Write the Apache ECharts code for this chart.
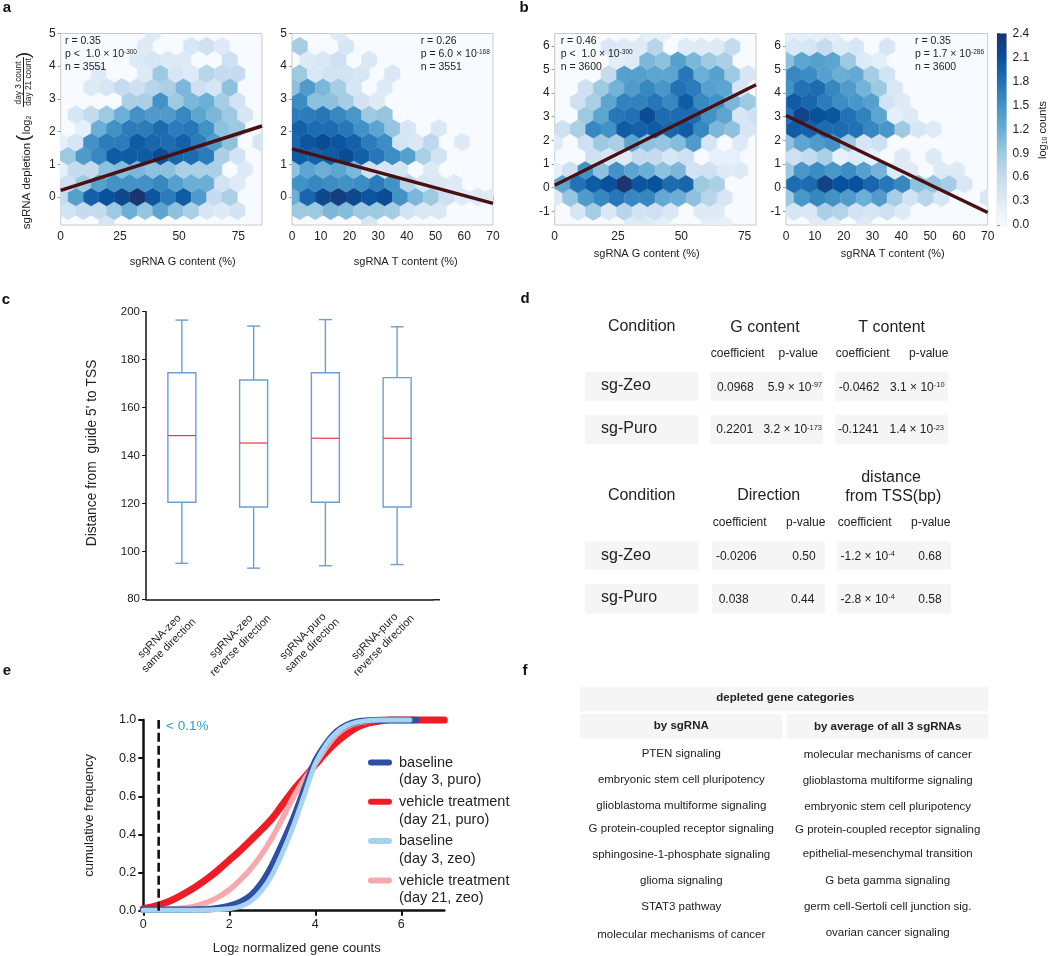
<!DOCTYPE html>
<html><head><meta charset="utf-8">
<style>html,body{margin:0;padding:0;background:#fff}#c{width:1050px;height:956px}</style>
<script src="https://cdn.jsdelivr.net/npm/echarts@6/dist/echarts.min.js"></script>
</head><body><div id="c"></div>
<script>
// ---------- hexbin values: log10 counts by row (bottom to top) and column
const hexA1 = [[0,0,0,.4],[.45,.6,.6,.9,1.2,.95,1.3,1.0,.8,.4,.3,.45],[.6,1.35,1.95,2.1,2.2,2.4,2.05,1.7,2.0,1.4,.6,.8],
[.5,.9,1.35,1.5,1.5,1.5,1.6,1.35,1.2,1.2,.45,.3],[.2,.6,.6,1.0,1.05,1.1,1.0,1.0,.8,.8,.8,0,.3],
[.9,1.4,1.6,2.0,2.0,2.0,2.15,1.9,1.85,1.7,.8,.45],[.2,.4,1.5,1.7,1.7,2.0,1.9,1.85,1.95,1.7,1.4,1.0,0,.4],
[0,.2,1.2,1.5,1.7,1.7,1.85,1.7,1.75,1.5,1.0,.9],[0,.4,.6,.9,1.2,1.5,1.4,1.4,1.6,1.3,1.1,.9,.4],
[0,0,0,0,.8,.8,1.5,.9,1.1,1.2,.85,.45],[0,0,.3,.4,.6,.5,.7,.8,1.1,.5,.4,1.0],[0,0,.3,0,0,.3,.9,.4,.3,.7,.6,.6],
[0,0,0,0,0,.3,.4,.3,.3,0,0,.5],[0,0,0,0,0,.3,0,0,.4,.5,.3],[0,0,0,0,0,0,.3]];
const hexA2 = [[0,0,0,0,0,.4],[.9,.9,1.1,1.05,.9,.9,.85,.45,.35,.35],[1.2,1.9,2.2,2.3,2.2,2.05,2.15,1.5,1.1,.9,.5,.3,.3,.3],
[1.5,1.6,1.55,1.5,1.55,1.7,1.5,.7,.4,.35,.3],[1.0,1.3,1.2,1.3,1.1,.5,.4,.4,0,.3],[2.0,1.95,2.0,2.15,1.95,1.75,1.55,1.35,.8,.45],
[1.9,2.05,2.15,2.05,1.95,1.7,1.55,.45,.35,.65,0,.3],[1.95,1.85,1.85,1.75,1.5,1.3,.95,.4,0,.35],[1.7,1.7,1.75,1.6,1.45,.9,.95],
[1.55,1.0,1.0,.85,.45,.3],[1.0,1.4,1.1,.85,.4,0,.3],[.9,.35,.45,.45,.4,0,.35],[0,.3,.35,.5,0,.35],[.85,0,0,.4],[0,0,0,.3]];
const hexB1 = [[0,0,0,0,0,.3,.3,.25,0,0,.25,.2],[0,.4,.85,.35,.7,.45,.5,.35,0,.3,.3],[.3,.95,1.4,1.6,1.75,1.6,1.6,1.25,1.2,1.0,.7,.4],
[1.3,1.8,2.0,2.1,2.4,2.05,2.1,1.85,1.9,.9,.8],[.2,.5,1.5,1.0,1.5,1.3,1.2,1.0,1.1,.45,.5,.3,.3],[0,0,.5,.4,.3,.6,.6,.4,.5,0,.2,.2],
[.3,0,.5,.9,.8,1.3,1.0,.95,1.05,1.4,.4,0,.3],[.5,.8,1.6,1.5,2.0,1.95,2.0,1.9,2.0,1.6,1.1,1.0,.4],
[0,0,.9,1.3,1.75,1.8,2.15,1.85,1.85,1.85,1.5,1.3,.4,.5],[0,.5,.8,1.3,1.65,1.65,1.75,1.6,2.0,1.6,1.5,1.1,.9],
[0,0,.5,.9,1.15,1.4,1.6,1.45,1.8,1.7,1.35,1.3,.4],[0,0,0,.6,1.35,1.35,1.3,1.3,1.75,1.2,1.35,.9,.4],
[0,0,0,0,.25,.3,1.1,1.0,1.35,1.1,.9,.8],[0,0,0,.35,.3,.3,.7,0,.3,.3,.3,.6],[0,0,0,0,0,0,.2,.2]];
const hexB2 = [[0,0,.3,.25,0,.3],[.4,.35,.8,.75,.45,.4,.5,.3],[.9,1.45,1.6,1.5,1.4,1.2,1.4,.85,.45,.7,.4,0,0,.35],
[1.85,1.85,2.25,2.1,2.1,1.9,1.75,1.6,1.0,.95,.85,.35],[.9,1.45,1.55,1.45,1.55,1.35,1.15,.3,.3,0,.3,.3],[.5,.6,.8,.2,.3,.2,0,.3,0,.3],
[1.0,1.3,1.4,1.5,.9,.4,.5],[2.0,1.95,1.85,1.85,1.8,1.6,1.45,.9,.4,.3],[1.8,2.25,2.1,2.05,1.8,1.65,1.3,.2,.3],
[2.0,1.9,1.7,1.55,1.45,1.35,.45,.3],[1.5,1.8,1.85,1.6,1.4,1.15,.9,.35],[1.6,1.55,1.35,1.2,1.25,.85,.45],
[1.0,1.3,1.35,1.3,.9,.3,.25],[.35,.4,.6,.3,.4,0,.4],[.2,.2,.2,.2]];
// ---------- regression line end points
const lineA1 = [[0,.2],[85,2.17]], lineA2 = [[0,1.47],[70,-.2]], lineB1 = [[0,.1],[79.5,4.35]], lineB2 = [[0,3.05],[70,-1.05]];
// ---------- tick labels
const ticksA1X = [0,25,50,75], ticksA2X = [0,10,20,30,40,50,60,70], ticksAY = [0,1,2,3,4,5], ticksBY = [-1,0,1,2,3,4,5,6];
const blues = ['#f7fbff','#deebf7','#c6dbef','#9ecae1','#6baed6','#4292c6','#2171b5','#08519c','#1a3570'];
// ---------- panel annotations
const statsA1 = ['r = 0.35','p <  1.0 × 10','-300','n = 3551'], statsA2 = ['r = 0.26','p = 6.0 × 10','-168','n = 3551'];
const statsB1 = ['r = 0.46','p <  1.0 × 10','-300','n = 3600'], statsB2 = ['r = 0.35','p = 1.7 × 10','-286','n = 3600'];
// ---------- panel c
const boxCategories = ['sgRNA-zeo\nsame direction','sgRNA-zeo\nreverse direction','sgRNA-puro\nsame direction','sgRNA-puro\nreverse direction'];
const boxLow = [95,93,94,94.5], boxQ1 = [120.5,118.5,120.5,118.5], boxMedian = [148.3,145.2,147.2,147.2], boxQ3 = [174.5,171.5,174.5,172.5], boxHigh = [196.5,194,196.7,193.7];
// ---------- panel e
const curveX = [0,.25,.5,.75,1,1.25,1.5,1.75,2,2.25,2.5,2.75,3,3.25,3.5,3.75,4,4.25,4.5,4.75,5,5.25,5.5,5.75,6];
const curveRed = [.01,.022,.04,.065,.095,.13,.17,.215,.265,.315,.37,.425,.485,.56,.635,.70,.765,.83,.885,.93,.965,.985,.995,1,1];
const curvePink = [.005,.006,.008,.011,.015,.027,.045,.073,.11,.16,.22,.295,.385,.49,.60,.69,.77,.855,.925,.965,.985,.995,1,1,1];
const curveDark = [.005,.005,.005,.005,.005,.006,.008,.014,.025,.045,.08,.145,.24,.36,.49,.64,.785,.875,.94,.975,.992,.998,1,1,1];
const curveLight = [.003,.003,.003,.003,.003,.003,.004,.006,.01,.022,.05,.105,.19,.31,.45,.61,.77,.87,.935,.972,.99,.997,1,1,1];
const legendNames = ['baseline\n(day 3, puro)','vehicle treatment\n(day 21, puro)','baseline\n(day 3, zeo)','vehicle treatment\n(day 21, zeo)'];
// ---------- panel d
const dCond = ['sg-Zeo','sg-Puro'];
const dG = [['0.0968','5.9 × 10','-97'],['0.2201','3.2 × 10','-173']], dT = [['-0.0462','3.1 × 10','-10'],['-0.1241','1.4 × 10','-23']];
const dDir = [['-0.0206','0.50'],['0.038','0.44']], dDist = [['-1.2 × 10','-4','0.68'],['-2.8 × 10','-4','0.58']];
// ---------- panel f
const fHead = ['depleted gene categories','by sgRNA','by average of all 3 sgRNAs'];
const fLeft = ['PTEN signaling','embryonic stem cell pluripotency','glioblastoma multiforme signaling','G protein-coupled receptor signaling','sphingosine-1-phosphate signaling','glioma signaling','STAT3 pathway','molecular mechanisms of cancer'];
const fRight = ['molecular mechanisms of cancer','glioblastoma multiforme signaling','embryonic stem cell pluripotency','G protein-coupled receptor signaling','epithelial-mesenchymal transition','G beta gamma signaling','germ cell-Sertoli cell junction sig.','ovarian cancer signaling'];

const FF = '"Liberation Sans", Arial, sans-serif', INK = '#222';
const chart = echarts.init(document.getElementById('c'), null, {renderer:'canvas'});

function hexData(rows, firstRow, y0, dy, evenX, oddX, dx){
  const out = [];
  rows.forEach((r,i)=>{ const idx = firstRow+i, even = ((idx%2)+2)%2===0;
    r.forEach((v,k)=>{ if(v>0) out.push([(even?evenX:oddX)+k*dx, y0+idx*dy, v]); }); });
  return out;
}
function hexSeries(i, data, dx, dy){
  return {type:'custom', xAxisIndex:i, yAxisIndex:i, clip:true, silent:true, z:2,
    encode:{x:0,y:1}, data,
    renderItem(p, api){
      const c = api.coord([api.value(0), api.value(1)]);
      const s = api.size([dx,dy]), w = s[0]/2, h = s[1]/3;
      const pts = [[c[0],c[1]-2*h],[c[0]+w,c[1]-h],[c[0]+w,c[1]+h],[c[0],c[1]+2*h],[c[0]-w,c[1]+h],[c[0]-w,c[1]-h]];
      const col = api.visual('color');
      return {type:'polygon', shape:{points:pts}, style:{fill:col, stroke:col, lineWidth:.4}};
    }};
}
function regSeries(i, data){
  return {type:'line', xAxisIndex:i, yAxisIndex:i, data, symbol:'none', silent:true, z:5, clip:true,
    lineStyle:{color:'#4a1010', width:3.5, cap:'butt'}};
}
const axisTxt = {color:INK, fontFamily:FF, fontSize:12};
function hexAxes(i, left, right, xmax, xticks, ymin, ymax, yticks){
  return {
    grid:{left, width:right-left, top:33.5, height:191.5, show:true, backgroundColor:'#f7fbff', borderColor:'#c9c9c9', borderWidth:1, z:1},
    x:{type:'value', gridIndex:i, min:0, max:xmax, splitLine:{show:false}, axisLine:{show:false},
      axisTick:{show:true, length:3, lineStyle:{color:'#999'}, customValues:xticks},
      axisLabel:{...axisTxt, margin:6, customValues:xticks, hideOverlap:false}},
    y:{type:'value', gridIndex:i, min:ymin, max:ymax, splitLine:{show:false}, axisLine:{show:false},
      axisTick:{show:true, length:3, lineStyle:{color:'#999'}, customValues:yticks},
      axisLabel:{...axisTxt, margin:5, customValues:yticks, hideOverlap:false}}
  };
}
const A = [hexAxes(0,60.7,262,85,ticksA1X,-.86,5,ticksAY),hexAxes(1,292,493,70,ticksA2X,-.86,5,ticksAY),
           hexAxes(2,554.7,756,79.5,ticksA1X,-1.58,6.52,ticksBY),hexAxes(3,786,987.7,70,ticksA2X,-1.58,6.52,ticksBY)];

// text helper
function T(x,y,text,size,o={}){
  return {type:'text', x, y, z:50, silent:true, rotation:o.rot||0, style:{text, fontSize:size, fontFamily:FF, fontWeight:o.w||'normal', fill:o.c||INK, align:o.a||'center', verticalAlign:'middle', rich:o.rich}};
}
function Sup(x,y,base,sup,size,a){
  return T(x,y,`{b|${base}}{s|${sup}}`,size,{a,rich:{b:{fontSize:size,fontFamily:FF,fill:INK},s:{fontSize:size*.62,fontFamily:FF,fill:INK,verticalAlign:'top',lineHeight:size}}});
}
function R(x,y,w,h,c='#f5f5f5'){return {type:'rect', z:1, silent:true, shape:{x,y,width:w,height:h}, style:{fill:c}};}
function stats(x,s){return [T(x,41,s[0],10.5,{a:'left'}), Sup(x,54,s[1],s[2],10.5,'left'), T(x,67,s[3],10.5,{a:'left'})];}

const g = [];
// panel letters
[['a',7,8],['b',524,8],['c',6,300],['d',525,299],['e',7,671],['f',525,671]].forEach(l=>g.push(T(l[1],l[2],l[0],15,{w:'bold',c:'#111'})));
g.push(...stats(65,statsA1),...stats(420.7,statsA2),...stats(560.7,statsB1),...stats(915,statsB2));
// hex axis names
g.push(T(182.7,262,'sgRNA G content (%)',11),T(405.8,262,'sgRNA T content (%)',11),T(646.7,254,'sgRNA G content (%)',11),T(892.8,254,'sgRNA T content (%)',11));
// panel a y label
const ROT=Math.PI/2;
g.push(T(27,186,'sgRNA depletion',11.5,{rot:ROT}));
g.push(T(24,138,'(',19,{rot:ROT}));
g.push({type:'text',x:27,y:125,z:50,silent:true,rotation:ROT,style:{text:'{b|log}{s|2}',verticalAlign:'middle',align:'center',rich:{b:{fontSize:11,fontFamily:FF,fill:INK},s:{fontSize:7,fontFamily:FF,fill:INK,verticalAlign:'bottom'}}}});
g.push(T(18.5,83,'day 3 count',8.3,{rot:ROT}),T(29,82,'day 21 count',8.3,{rot:ROT}));
g.push(R(23,57,1,50,'#222'));
g.push(T(24,55,')',19,{rot:ROT}));
// colorbar title
g.push({type:'text',x:1043,y:130,z:50,silent:true,rotation:ROT,style:{text:'{b|log}{s|10}{b| counts}',align:'center',verticalAlign:'middle',rich:{b:{fontSize:11,fontFamily:FF,fill:INK},s:{fontSize:7,fontFamily:FF,fill:INK,verticalAlign:'bottom'}}}});
// panel c
g.push(T(92,453,"Distance from  guide 5' to TSS",13.8,{rot:ROT}));
g.push(R(433,599,7,1.5,'#222'));
// panel d backgrounds
[[372.3,29],[415,29.3]].forEach(r=>{g.push(R(585,r[0],113.3,r[1]),R(710.7,r[0],112.3,r[1]),R(835.3,r[0],112.4,r[1]));});
[[541.3,28.4],[584,29.7]].forEach(r=>{g.push(R(585,r[0],113.3,r[1]),R(712,r[0],113,r[1]),R(837,r[0],113.7,r[1]));});
g.push(T(641.7,326.7,'Condition',16),T(765,328,'G content',16),T(891.7,328,'T content',16));
g.push(T(737.7,353.3,'coefficient',12),T(798.3,353.3,'p-value',12),T(862.7,353.3,'coefficient',12),T(928.7,353.3,'p-value',12));
[386,428.7].forEach((y,i)=>g.push(T(601,y,dCond[i],16,{a:'left'})));
[387.3,430].forEach((y,i)=>{
  g.push(T(i?734.7:735.3,y,dG[i][0],12),Sup(i?792.7:795,y,dG[i][1],dG[i][2],12),T(i?858.3:859,y,dT[i][0],12),Sup(i?916.7:917.3,y,dT[i][1],dT[i][2],12));
});
g.push(T(641.7,496,'Condition',16),T(768.7,496,'Direction',16),T(891,477.3,'distance',16),T(893.3,496.3,'from TSS(bp)',16));
g.push(T(739.7,522.3,'coefficient',12),T(805.7,522.3,'p-value',12),T(864.7,522.3,'coefficient',12),T(930.7,522.3,'p-value',12));
[555.3,597.7].forEach((y,i)=>g.push(T(601,y,dCond[i],16,{a:'left'})));
[556.7,599.3].forEach((y,i)=>{
  g.push(T(i?733.7:736.3,y,dDir[i][0],12),T(i?802.7:804,y,dDir[i][1],12),Sup(867.7,y,dDist[i][0],dDist[i][1],12),T(930,y,dDist[i][2],12));
});
// panel e note
g.push(T(166,726.7,'< 0.1%',13.5,{a:'left',c:'#2a9fd6'}));
// panel f
g.push(R(580.3,686.7,408,24.6),R(580.3,714,202,25),R(787,714,201.3,25));
g.push(T(785.3,698,fHead[0],11.5,{w:'bold'}),T(681.3,726,fHead[1],11.5,{w:'bold'}),T(887.7,727,fHead[2],11.5,{w:'bold'}));
[754,780,806,829.3,855.3,881.3,907.3,935].forEach((y,i)=>g.push(T(681.3,y,fLeft[i],11.5)));
[755,781,807,830.3,854.3,881.3,907.3,932.7].forEach((y,i)=>g.push(T(887.7,y,fRight[i],11.5)));

const blackAxis = w=>({lineStyle:{color:'#111',width:w}});
const pair = (xs,ys)=>xs.map((x,i)=>[x,ys[i]]);
function curve(name, xs, ys, color, width, z){
  return {type:'line', name, xAxisIndex:6, yAxisIndex:6, data:pair(xs,ys), symbol:'none', smooth:.3, clip:false, silent:true, z,
    itemStyle:{color}, lineStyle:{color,width,cap:'round'}};
}
const icon = 'path://M0 0L26 0M3 6L21 6A3 3 0 0 1 21 12L3 12A3 3 0 0 1 3 6ZM0 36L26 36';

const option = {
  backgroundColor:'#fff', animation:false,
  textStyle:{fontFamily:FF},
  grid:[...A.map(a=>a.grid),
    {left:997,width:9.5,top:33.5,height:191.5,show:true,borderColor:'#ccc',borderWidth:.5},
    {left:146,width:287,top:311.7,height:287.6},
    {left:143.3,width:301,top:720,height:190.7}],
  xAxis:[...A.map(a=>a.x),
    {type:'value',gridIndex:4,min:0,max:1,show:false},
    {type:'category',gridIndex:5,data:boxCategories,boundaryGap:true,axisLine:blackAxis(1.5),axisTick:{show:false},
     axisLabel:{color:INK,fontFamily:FF,fontSize:11,rotate:45,align:'center',verticalAlign:'middle',lineHeight:13,margin:24,padding:[0,50,0,0],interval:0,hideOverlap:false}},
    {type:'value',gridIndex:6,min:0,max:7,interval:2,splitLine:{show:false},axisLine:blackAxis(2.5),axisTick:{length:5,lineStyle:{color:'#111',width:2},customValues:[0,2,4,6]},
     axisLabel:{color:INK,fontFamily:FF,fontSize:12.5,margin:7,customValues:[0,2,4,6]}}],
  yAxis:[...A.map(a=>a.y),
    {type:'value',gridIndex:4,min:0,max:2.4,interval:.3,position:'right',splitLine:{show:false},axisLine:{show:false},
     axisTick:{show:true,length:3,lineStyle:{color:'#888'}},axisLabel:{...axisTxt,margin:6,formatter:v=>v.toFixed(1)}},
    {type:'value',gridIndex:5,min:80,max:200,interval:20,splitLine:{show:false},axisLine:{show:true,...blackAxis(1.5)},axisTick:{show:true,length:4,lineStyle:{color:'#111'}},axisLabel:{...axisTxt,fontSize:11.5,margin:6}},
    {type:'value',gridIndex:6,min:0,max:1,interval:.2,splitLine:{show:false},axisLine:{show:true,...blackAxis(2.5)},axisTick:{show:true,length:5,lineStyle:{color:'#111',width:2}},
     axisLabel:{color:INK,fontFamily:FF,fontSize:12.5,margin:7,formatter:v=>v.toFixed(1)},
     name:'cumulative frequency',nameLocation:'middle',nameGap:47,nameTextStyle:{color:INK,fontFamily:FF,fontSize:13}}],
  visualMap:[{type:'continuous',show:false,min:0,max:2.4,dimension:2,seriesIndex:[0,1,2,3],inRange:{color:blues}}],
  legend:{show:true,orient:'vertical',left:368,top:753.5,padding:0,itemWidth:26,itemHeight:36,itemGap:3.3,icon,selectedMode:false,
    data:legendNames,textStyle:{color:INK,fontFamily:FF,fontSize:14.5,lineHeight:17.5},itemStyle:{borderWidth:0}},
  series:[
    hexSeries(0,hexData(hexA1,-2,0,.419,-.15,3.1,6.5),6.5,.419),
    hexSeries(1,hexData(hexA2,-2,0,.419,0,2.69,5.38),5.38,.419),
    hexSeries(2,hexData(hexB1,-3,.155,.58,3.05,0,6.1),6.1,.58),
    hexSeries(3,hexData(hexB2,-3,.155,.58,2.78,.1,5.38),5.38,.58),
    regSeries(0,lineA1),regSeries(1,lineA2),regSeries(2,lineB1),regSeries(3,lineB2),
    {type:'custom',xAxisIndex:4,yAxisIndex:4,silent:true,data:[[0,0,1,2.4]],encode:{x:[0,2],y:[1,3]},
     renderItem(p,api){const a=api.coord([api.value(0),api.value(1)]),b=api.coord([api.value(2),api.value(3)]);
       return {type:'rect',shape:{x:a[0],y:b[1],width:b[0]-a[0],height:a[1]-b[1]},
        style:{fill:new echarts.graphic.LinearGradient(0,1,0,0,blues.map((c,i)=>({offset:i/(blues.length-1),color:c})))}};}},
    {type:'custom',xAxisIndex:5,yAxisIndex:5,silent:true,clip:false,z:3,
     data:boxCategories.map((c,i)=>[i,boxLow[i],boxQ1[i],boxMedian[i],boxQ3[i],boxHigh[i]]),encode:{x:0,y:[1,2,3,4,5]},
     renderItem(p,api){
       const i=api.value(0),P=k=>api.coord([i,api.value(k)]),x=P(1)[0],band=api.size([1,0])[0],hw=band*.195,cw=band*.09;
       const S={stroke:'#6a9fd4',lineWidth:1.4,fill:null};
       const L=(x1,y1,x2,y2,s=S)=>({type:'line',shape:{x1,y1,x2,y2},style:s});
       const lo=P(1)[1],q1=P(2)[1],m=P(3)[1],q3=P(4)[1],hi=P(5)[1];
       return {type:'group',children:[
         L(x,hi,x,q3),L(x,q1,x,lo),L(x-cw,hi,x+cw,hi),L(x-cw,lo,x+cw,lo),
         {type:'rect',shape:{x:x-hw,y:q3,width:2*hw,height:q1-q3},style:{stroke:'#6a9fd4',lineWidth:1.4,fill:'#fff'}},
         L(x-hw,m,x+hw,m,{stroke:'#ee3344',lineWidth:1.2})]};
     }},
    {type:'line',xAxisIndex:6,yAxisIndex:6,data:[[.357,0],[.357,1]],symbol:'none',silent:true,z:6,lineStyle:{color:'#111',width:2.6,type:[9,4]}},
    curve(legendNames[0],[...curveX,6.35],[...curveDark,1],'#2e4fa3',6.5,3),
    curve(legendNames[1],[...curveX,7],[...curveRed,1],'#ee1c25',7,2),
    curve(legendNames[2],[...curveX,6.2],[...curveLight,1],'#a6d3f0',5,4),
    curve(legendNames[3],[...curveX,6.2],[...curvePink,1],'#f7a9ae',5.5,2.5)
  ],
  graphic:[...g, {type:'text',x:296.7,y:948,z:50,silent:true,style:{text:'{b|Log}{s|2}{b| normalized gene counts}',align:'center',verticalAlign:'middle',rich:{b:{fontSize:13,fontFamily:FF,fill:INK},s:{fontSize:8.5,fontFamily:FF,fill:INK,verticalAlign:'bottom'}}}}]
};
chart.setOption(option);
</script></body></html>
